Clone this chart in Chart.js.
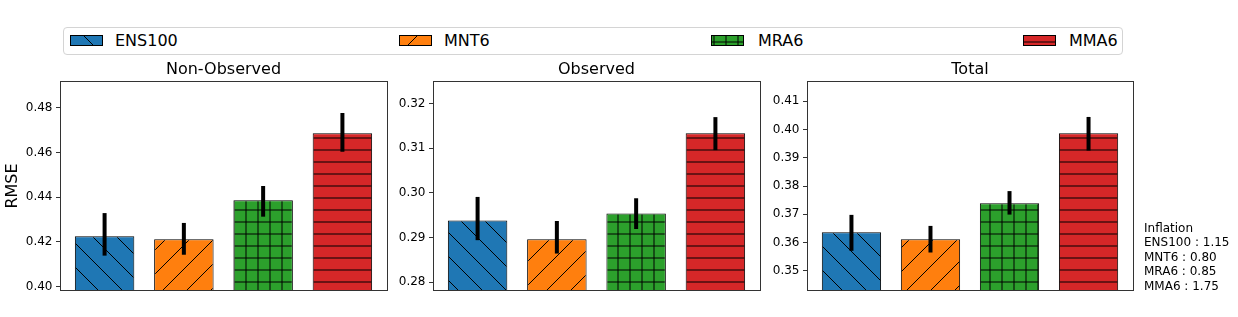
<!DOCTYPE html>
<html><head><meta charset="utf-8">
<script src="https://cdn.jsdelivr.net/npm/chart.js@4.4.0/dist/chart.umd.min.js"></script>
<style>
html,body{margin:0;padding:0;background:#fff;}
body{width:1238px;height:317px;position:relative;overflow:hidden;font-family:'DejaVu Sans';}
canvas{position:absolute;}
#legend{position:absolute;left:63px;top:27px;width:1058px;height:26px;border:1px solid #d4d4d4;border-radius:4px;}
.lt{position:absolute;font-size:16px;line-height:19.2px;color:#000;white-space:nowrap;top:31px;}
#infl{position:absolute;left:1144px;top:221px;font-size:12px;line-height:14.4px;white-space:pre;color:#000;}
</style></head><body>
<div id="legend"></div>
<canvas id="c1"></canvas><canvas id="c2"></canvas><canvas id="c3"></canvas>
<div id="infl"></div>
<script>
// ---- data ----
const categories = ['ENS100', 'MNT6', 'MRA6', 'MMA6'];
const panelTitles = ['Non-Observed', 'Observed', 'Total'];
const nonObsRmse = [0.4225, 0.4212, 0.4386, 0.4686];
const nonObsLo   = [0.4139, 0.4143, 0.4313, 0.4603];
const nonObsHi   = [0.4329, 0.4285, 0.4450, 0.4776];
const obsRmse = [0.2938, 0.2896, 0.2954, 0.3134];
const obsLo   = [0.2894, 0.2864, 0.2919, 0.3096];
const obsHi   = [0.2991, 0.2937, 0.2988, 0.3170];
const totRmse = [0.3637, 0.3612, 0.3739, 0.3986];
const totLo   = [0.3571, 0.3565, 0.3699, 0.3925];
const totHi   = [0.3698, 0.3659, 0.3782, 0.4044];
const nonObsTicks = [0.40, 0.42, 0.44, 0.46, 0.48];
const obsTicks = [0.28, 0.29, 0.30, 0.31, 0.32];
const totTicks = [0.35, 0.36, 0.37, 0.38, 0.39, 0.40, 0.41];
const nonObsRange = [0.3981, 0.4919];
const obsRange = [0.2780, 0.3251];
const totRange = [0.3429, 0.4171];
const inflation = [1.15, 0.80, 0.85, 1.75];
const yLabel = 'RMSE';
const inflationTitle = 'Inflation';

// ---- styles ----
const colors = ['#1f77b4', '#ff7f0e', '#2ca02c', '#d62728'];
const hatches = ['\\', '/', '+', '-'];
Chart.defaults.font.family = "'DejaVu Sans'";
Chart.defaults.color = '#000';

const mod = (a, m) => ((a % m) + m) % m;
function makeTile(kind, color, ox, oy) {
  const c = document.createElement('canvas'); c.width = 24; c.height = 24;
  const g = c.getContext('2d');
  g.fillStyle = color; g.fillRect(0, 0, 24, 24);
  g.strokeStyle = '#000'; g.lineWidth = 1;
  g.beginPath();
  if (kind === '-' || kind === '+') {
    const p = mod(6 - oy, 12);
    for (let y = p - 12; y <= 36; y += 12) { g.moveTo(-2, y); g.lineTo(26, y); }
  }
  if (kind === '+') {
    const p = mod(6 - ox, 12);
    for (let x = p - 12; x <= 36; x += 12) { g.moveTo(x, -2); g.lineTo(x, 26); }
  }
  if (kind === '\\') {
    const c0 = mod(oy - ox, 24);
    for (let k = -2; k <= 2; k++) { const cc = c0 + 24 * k; g.moveTo(cc - 30, -30); g.lineTo(cc + 54, 54); }
  }
  if (kind === '/') {
    const c0 = mod(21 - ox - oy, 24);
    for (let k = -2; k <= 2; k++) { const cc = c0 + 24 * k; g.moveTo(cc + 30, -30); g.lineTo(cc - 54, 54); }
  }
  g.stroke();
  return c;
}

const framePlugin = {
  id: 'frame',
  afterDraw(chart) {
    const { ctx, chartArea: a } = chart;
    const L = Math.round(a.left), T = Math.round(a.top), R = Math.round(a.right), B = Math.round(a.bottom);
    ctx.save(); ctx.strokeStyle = '#333'; ctx.lineWidth = 1;
    ctx.strokeRect(L + 0.5, T + 0.5, R - L, B - T - 1);
    ctx.restore();
  }
};
const errPlugin = {
  id: 'err',
  afterDatasetsDraw(chart, args, opts) {
    const ctx = chart.ctx, meta = chart.getDatasetMeta(0), y = chart.scales.y;
    ctx.save(); ctx.strokeStyle = '#000'; ctx.lineWidth = 4; ctx.lineCap = 'butt';
    meta.data.forEach((bar, i) => {
      ctx.beginPath();
      ctx.moveTo(bar.x, y.getPixelForValue(opts.lo[i]));
      ctx.lineTo(bar.x, y.getPixelForValue(opts.hi[i]));
      ctx.stroke();
    });
    ctx.restore();
  }
};

function makePanel(id, left, width, yWidth, padRight, title, vals, lo, hi, range, ticks, showYTitle) {
  const cv = document.getElementById(id);
  cv.style.left = left + 'px'; cv.style.top = '56px';
  cv.width = width; cv.height = 261;
  const ctx = cv.getContext('2d');
  const bg = hatches.map((k, i) => ctx.createPattern(makeTile(k, colors[i], left, 56), 'repeat'));
  new Chart(ctx, {
    type: 'bar',
    data: { datasets: [{
      data: vals.map((v, i) => ({ x: i, y: v })),
      backgroundColor: bg, borderColor: '#000', borderWidth: 1, borderSkipped: false,
      base: range[0], categoryPercentage: 1, barPercentage: 0.75
    }] },
    options: {
      responsive: false, animation: false, events: [], devicePixelRatio: 1,
      layout: { padding: { left: 0, right: padRight, top: 4, bottom: 26 } },
      plugins: {
        legend: { display: false }, tooltip: { enabled: false },
        title: { display: true, text: title, fullSize: false, font: { size: 16, weight: 'normal' }, color: '#000', padding: { top: 0, bottom: 1.8 } },
        err: { lo: lo, hi: hi }
      },
      scales: {
        x: { type: 'linear', display: false, offset: false, grid: { offset: false }, min: -0.5625, max: 3.5625 },
        y: {
          min: range[0], max: range[1],
          afterFit: s => { s.width = yWidth; },
          afterBuildTicks: s => { s.ticks = ticks.map(v => ({ value: v })); },
          ticks: { font: { size: 12 }, color: '#000', padding: 3.5, callback: v => Number(v).toFixed(2) },
          grid: { drawOnChartArea: false, drawTicks: true, tickLength: 4, color: '#333' },
          border: { display: false },
          title: { display: showYTitle, text: yLabel, font: { size: 16 }, color: '#000', padding: { top: 3.5, bottom: 0 } }
        }
      }
    },
    plugins: [framePlugin, errPlugin]
  });
}

makePanel('c1', 0, 395, 60, 8, panelTitles[0], nonObsRmse, nonObsLo, nonObsHi, nonObsRange, nonObsTicks, true);
makePanel('c2', 395, 372, 38, 7, panelTitles[1], obsRmse, obsLo, obsHi, obsRange, obsTicks, false);
makePanel('c3', 767, 471, 40, 105, panelTitles[2], totRmse, totLo, totHi, totRange, totTicks, false);

// ---- legend ----
const patchX = [70, 399, 711, 1023];
const textX = [115, 444, 758, 1069];
categories.forEach((name, i) => {
  const c = document.createElement('canvas');
  c.width = 33; c.height = 11; c.style.left = patchX[i] + 'px'; c.style.top = '35px';
  document.body.appendChild(c);
  const g = c.getContext('2d');
  g.fillStyle = g.createPattern(makeTile(hatches[i], colors[i], patchX[i], 35), 'repeat');
  g.fillRect(0, 0, 33, 11);
  g.strokeStyle = '#000'; g.lineWidth = 1; g.strokeRect(0.5, 0.5, 32, 10);
  const t = document.createElement('div');
  t.className = 'lt'; t.style.left = textX[i] + 'px'; t.textContent = name;
  document.body.appendChild(t);
});

document.getElementById('infl').textContent =
  [inflationTitle].concat(categories.map((c, i) => c + ' : ' + inflation[i].toFixed(2))).join('\n');
</script>
</body></html>
